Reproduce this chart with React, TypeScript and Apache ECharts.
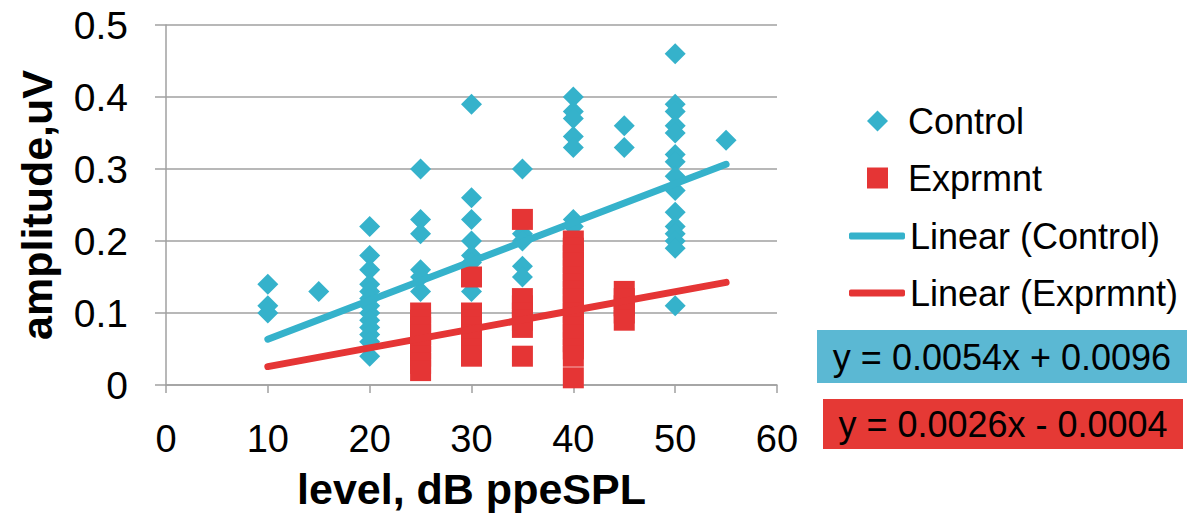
import React, { useEffect, useRef } from "react";
import * as echarts from "echarts";

const FONT = "'Liberation Sans', Arial, sans-serif";

const xTicks = [0, 10, 20, 30, 40, 50, 60];
const yTicks = [0, 0.1, 0.2, 0.3, 0.4, 0.5];

const seriesNames = ["Control", "Exprmnt", "Linear (Control)", "Linear (Exprmnt)"];

const controlPoints: [number, number][] = [
  [10, 0.14], [10, 0.11], [10, 0.10],
  [15, 0.13],
  [20, 0.22], [20, 0.18], [20, 0.16], [20, 0.14], [20, 0.13], [20, 0.12], [20, 0.11],
  [20, 0.10], [20, 0.09], [20, 0.08], [20, 0.07], [20, 0.06], [20, 0.04],
  [25, 0.30], [25, 0.23], [25, 0.21], [25, 0.16], [25, 0.15], [25, 0.13],
  [30, 0.39], [30, 0.26], [30, 0.23], [30, 0.20], [30, 0.18], [30, 0.17], [30, 0.13],
  [35, 0.30], [35, 0.21], [35, 0.20], [35, 0.165], [35, 0.15],
  [40, 0.40], [40, 0.38], [40, 0.37], [40, 0.345], [40, 0.33], [40, 0.23], [40, 0.22],
  [45, 0.36], [45, 0.33],
  [50, 0.46], [50, 0.39], [50, 0.38], [50, 0.36], [50, 0.35], [50, 0.32], [50, 0.31],
  [50, 0.29], [50, 0.27], [50, 0.24], [50, 0.22], [50, 0.21], [50, 0.20], [50, 0.19], [50, 0.11],
  [55, 0.34],
];

const exprPoints: [number, number][] = [
  [25, 0.10], [25, 0.09], [25, 0.08], [25, 0.07], [25, 0.06], [25, 0.05], [25, 0.04], [25, 0.03], [25, 0.02],
  [30, 0.15], [30, 0.10], [30, 0.09], [30, 0.08], [30, 0.07], [30, 0.06], [30, 0.05], [30, 0.04],
  [35, 0.23], [35, 0.12], [35, 0.11], [35, 0.10], [35, 0.09], [35, 0.08], [35, 0.04],
  [40, 0.20], [40, 0.19], [40, 0.18], [40, 0.17], [40, 0.16], [40, 0.15], [40, 0.14], [40, 0.13],
  [40, 0.12], [40, 0.11], [40, 0.10], [40, 0.09], [40, 0.08], [40, 0.07], [40, 0.06], [40, 0.05],
  [40, 0.04], [40, 0.01],
  [45, 0.13], [45, 0.12], [45, 0.11], [45, 0.10], [45, 0.09],
];

const controlTrend: [number, number][] = [[10, 0.0636], [55, 0.3066]];
const exprTrend: [number, number][] = [[10, 0.0256], [55, 0.1426]];

const equations = ["y = 0.0054x + 0.0096", "y = 0.0026x - 0.0004"];

const CYAN = "#35B2CB";
const RED = "#E53535";
const GRAY = "#A0A0A0";

export default function App() {
  const ref = useRef<HTMLDivElement>(null);
  useEffect(() => {
    const chart = echarts.init(ref.current!, null, { renderer: "svg" });
    chart.setOption({
      animation: false,
      backgroundColor: "#ffffff",
      textStyle: { fontFamily: FONT },
      grid: { left: 166, top: 25, width: 611, height: 360 },
      xAxis: {
        type: "value",
        min: xTicks[0],
        max: xTicks[xTicks.length - 1],
        interval: 10,
        name: "level, dB ppeSPL",
        nameLocation: "middle",
        nameGap: 82,
        nameTextStyle: { fontSize: 43, fontWeight: "bold", color: "#000", fontFamily: FONT },
        axisLine: { show: true, onZero: false, lineStyle: { color: GRAY, width: 1.5 } },
        axisTick: { show: true, inside: false, length: 8, lineStyle: { color: GRAY, width: 1.5 } },
        axisLabel: { fontSize: 38, color: "#000", margin: 35, fontFamily: FONT },
        splitLine: { show: false },
      },
      yAxis: {
        type: "value",
        min: yTicks[0],
        max: yTicks[yTicks.length - 1],
        interval: 0.1,
        name: "amplitude,uV",
        nameLocation: "middle",
        nameRotate: 90,
        nameGap: 108,
        nameTextStyle: { fontSize: 43, fontWeight: "bold", color: "#000", fontFamily: FONT },
        axisLine: { show: true, lineStyle: { color: GRAY, width: 1.5 } },
        axisTick: { show: true, inside: false, length: 11, lineStyle: { color: GRAY, width: 1.5 } },
        axisLabel: { fontSize: 39, color: "#000", margin: 38, fontFamily: FONT },
        splitLine: { show: true, lineStyle: { color: GRAY, width: 1.5 } },
      },
      legend: [
        {
          orient: "vertical",
          left: 867,
          top: 103,
          padding: 0,
          itemWidth: 21,
          itemHeight: 21,
          itemGap: 21,
          textStyle: { fontSize: 36, color: "#000", fontFamily: FONT, padding: [0, 0, 0, 15] },
          data: [
            { name: seriesNames[0], icon: "diamond" },
            { name: seriesNames[1], icon: "rect" },
          ],
        },
        {
          orient: "vertical",
          left: 849,
          top: 218,
          padding: 0,
          itemWidth: 56,
          itemHeight: 7,
          itemGap: 21,
          textStyle: { fontSize: 36, color: "#000", fontFamily: FONT },
          data: [
            { name: seriesNames[2], icon: "roundRect" },
            { name: seriesNames[3], icon: "roundRect" },
          ],
        },
      ],
      series: [
        {
          name: seriesNames[0],
          type: "scatter",
          symbol: "diamond",
          symbolSize: 21,
          itemStyle: { color: CYAN, opacity: 1 },
          data: controlPoints,
        },
        {
          name: seriesNames[1],
          type: "scatter",
          symbol: "rect",
          symbolSize: 21,
          itemStyle: { color: RED, opacity: 1 },
          data: exprPoints,
        },
        {
          name: seriesNames[2],
          type: "line",
          symbol: "none",
          itemStyle: { color: CYAN },
          lineStyle: { color: CYAN, width: 7, cap: "round" },
          data: controlTrend,
        },
        {
          name: seriesNames[3],
          type: "line",
          symbol: "none",
          itemStyle: { color: RED },
          lineStyle: { color: RED, width: 7, cap: "round" },
          data: exprTrend,
        },
      ],
      graphic: [
        { type: "rect", shape: { x: 817, y: 330, width: 370, height: 53 }, style: { fill: "#5BB8D3" } },
        {
          type: "text",
          x: 1002,
          y: 357,
          style: { text: equations[0], fontSize: 36, fontFamily: FONT, fill: "#000", align: "center", verticalAlign: "middle" },
        },
        { type: "rect", shape: { x: 823, y: 399, width: 360, height: 50 }, style: { fill: "#E53935" } },
        {
          type: "text",
          x: 1003,
          y: 424,
          style: { text: equations[1], fontSize: 36, fontFamily: FONT, fill: "#000", align: "center", verticalAlign: "middle" },
        },
      ],
    });
    return () => chart.dispose();
  }, []);
  return (
    <div
      ref={ref}
      style={{ position: "fixed", left: 0, top: 0, width: 1190, height: 525, background: "#fff" }}
    />
  );
}
